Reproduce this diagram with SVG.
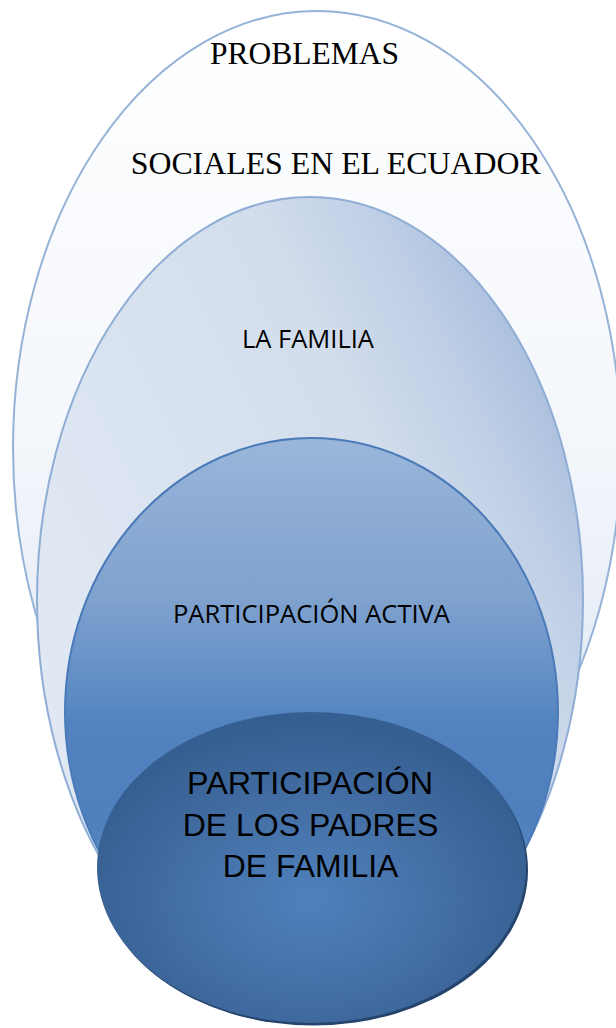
<svg xmlns="http://www.w3.org/2000/svg" width="616" height="1028" viewBox="0 0 616 1028">
  <defs>
    <linearGradient id="g1" x1="0" y1="0" x2="0" y2="1">
      <stop offset="0" stop-color="#ffffff"/>
      <stop offset="0.5" stop-color="#f3f6fb"/>
      <stop offset="1" stop-color="#d9e3f0"/>
    </linearGradient>
    <linearGradient id="g2" gradientUnits="userSpaceOnUse" x1="37" y1="600" x2="555" y2="341">
      <stop offset="0" stop-color="#e0e8f3"/>
      <stop offset="0.64" stop-color="#d2ddec"/>
      <stop offset="0.84" stop-color="#bccde5"/>
      <stop offset="1" stop-color="#a4bbdb"/>
    </linearGradient>
    <linearGradient id="g3" x1="0" y1="0" x2="0" y2="1">
      <stop offset="0" stop-color="#9ab6da"/>
      <stop offset="0.3" stop-color="#7ea1ce"/>
      <stop offset="0.52" stop-color="#5283c0"/>
      <stop offset="0.7" stop-color="#4f80bd"/>
      <stop offset="1" stop-color="#7098cc"/>
    </linearGradient>
    <radialGradient id="g4" cx="0.5" cy="0.6" r="0.55">
      <stop offset="0" stop-color="#4f81bd"/>
      <stop offset="0.55" stop-color="#446fa5"/>
      <stop offset="1" stop-color="#365f91"/>
    </radialGradient>
    <style>
      .serif { font-family: "Liberation Serif", "Times New Roman", serif; font-size: 31.5px; fill: #000; }
      .cal { font-family: "Open Sans", "Liberation Sans", sans-serif; font-size: 25px; fill: #000; }
      .ari { font-family: "Liberation Sans", Arial, sans-serif; font-size: 31.5px; fill: #000; }
    </style>
  </defs>

  <g id="node-problemas">
    <ellipse cx="317" cy="448" rx="304" ry="437" fill="url(#g1)" stroke="#95b3d7" stroke-width="2"/>
    <text class="serif" x="304.5" y="64" text-anchor="middle" textLength="189" lengthAdjust="spacingAndGlyphs">PROBLEMAS</text>
    <text class="serif" x="335.7" y="174" text-anchor="middle" textLength="410" lengthAdjust="spacingAndGlyphs">SOCIALES EN EL ECUADOR</text>
  </g>

  <g id="node-familia">
    <ellipse cx="310" cy="600" rx="273" ry="403" fill="url(#g2)" stroke="#8fadd5" stroke-width="2"/>
    <text class="cal" x="308" y="348" text-anchor="middle" textLength="132" lengthAdjust="spacingAndGlyphs">LA FAMILIA</text>
  </g>

  <g id="node-activa">
    <ellipse cx="311.5" cy="712" rx="246.5" ry="274" fill="url(#g3)" stroke="#4a7bb8" stroke-width="2"/>
    <text class="cal" x="311.5" y="623" text-anchor="middle" textLength="277" lengthAdjust="spacingAndGlyphs">PARTICIPACIÓN ACTIVA</text>
  </g>

  <g id="node-padres">
    <ellipse cx="313.5" cy="870" rx="214.5" ry="155.5" fill="#25446d"/>
    <ellipse cx="311.5" cy="867.5" rx="214.5" ry="155.5" fill="url(#g4)"/>
    <text class="ari" x="310" y="794" text-anchor="middle" textLength="246" lengthAdjust="spacingAndGlyphs">PARTICIPACIÓN</text>
    <text class="ari" x="310.5" y="836" text-anchor="middle" textLength="255.6" lengthAdjust="spacingAndGlyphs">DE LOS PADRES</text>
    <text class="ari" x="310.5" y="877" text-anchor="middle" textLength="175.6" lengthAdjust="spacingAndGlyphs">DE FAMILIA</text>
  </g>

  <g id="connectors"/>
</svg>
